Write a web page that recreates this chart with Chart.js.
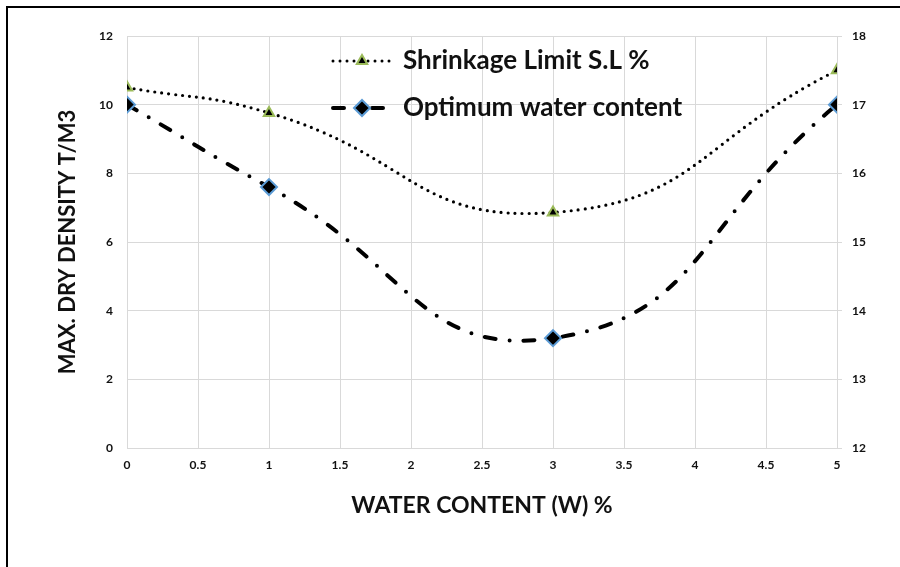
<!DOCTYPE html>
<html>
<head>
<meta charset="utf-8">
<script src="https://cdn.jsdelivr.net/npm/chart.js@4"></script>
<style>
    html, body { margin: 0; padding: 0; background: #fff; }
    #wrap { width: 900px; height: 567px; }
</style>
</head>
<body>
<div id="wrap"><canvas id="soilChart" width="900" height="567"></canvas></div>
<script>
// Values
const waterContent = [0, 1, 3, 5];
const optimumWater = [10, 7.6, 3.2, 10];          // left axis
const shrinkageLimit = [17.25, 16.88, 15.43, 17.5]; // right axis

const seriesNames = ['Shrinkage Limit S.L %', 'Optimum water content'];

const FONT = "Lato, 'Open Sans', sans-serif";
const GRID = '#d9d9d9';

const dottedDash = [0, 7];
const dashDot = [11, 14, 0, 14];

// White background plus the black frame on the top and left edges
const framePlugin = {
    id: 'frame',
    beforeDraw(chart) {
        const ctx = chart.ctx;
        ctx.save();
        ctx.fillStyle = '#fff';
        ctx.fillRect(0, 0, chart.width, chart.height);
        ctx.strokeStyle = '#000';
        ctx.lineWidth = 2;
        ctx.beginPath();
        ctx.moveTo(7, chart.height);
        ctx.lineTo(7, 7);
        ctx.lineTo(chart.width, 7);
        ctx.stroke();
        ctx.restore();
    }
};

// Legend sitting inside the plot, with line sample + marker like Excel
const legendPlugin = {
    id: 'sampleLegend',
    afterDraw(chart) {
        const ctx = chart.ctx;
        const rows = [
            { ds: chart.data.datasets[1], y: 61, dash: dottedDash, width: 3 },
            { ds: chart.data.datasets[0], y: 108, dash: dashDot, width: 4 }
        ];
        rows.forEach(row => {
            ctx.save();
            ctx.strokeStyle = '#000';
            ctx.lineWidth = row.width;
            ctx.lineCap = 'round';
            ctx.setLineDash(row.dash);
            ctx.beginPath();
            ctx.moveTo(333, row.y);
            ctx.lineTo(391, row.y);
            ctx.stroke();
            ctx.setLineDash([]);
            ctx.fillStyle = row.ds.pointBackgroundColor;
            ctx.strokeStyle = row.ds.pointBorderColor;
            ctx.lineWidth = row.ds.pointBorderWidth;
            Chart.helpers.drawPoint(ctx, {
                pointStyle: row.ds.pointStyle,
                radius: row.ds.pointRadius,
                rotation: 0,
                borderWidth: row.ds.pointBorderWidth
            }, 362, row.y);
            ctx.fillStyle = '#111';
            ctx.font = 'bold 26px ' + FONT;
            ctx.textBaseline = 'middle';
            ctx.fillText(row.ds.label, 403, row.y);
            ctx.restore();
        });
    }
};

const tickFont = { family: FONT, size: 12, weight: 'bold' };

const ctx = document.getElementById('soilChart').getContext('2d');

new Chart(ctx, {
    type: 'line',
    data: {
        datasets: [{
            label: seriesNames[1],
            data: waterContent.map((w, i) => ({ x: w, y: optimumWater[i] })),
            yAxisID: 'y',
            borderColor: '#000',
            borderWidth: 4,
            borderDash: dashDot,
            borderCapStyle: 'round',
            tension: 0.5,
            pointStyle: 'rectRot',
            pointRadius: 8,
            pointBackgroundColor: '#000',
            pointBorderColor: '#5b9bd5',
            pointBorderWidth: 2
        }, {
            label: seriesNames[0],
            data: waterContent.map((w, i) => ({ x: w, y: shrinkageLimit[i] })),
            yAxisID: 'y1',
            borderColor: '#000',
            borderWidth: 3.2,
            borderDash: dottedDash,
            borderCapStyle: 'round',
            tension: 0.5,
            pointStyle: 'triangle',
            pointRadius: 6,
            pointBackgroundColor: '#000',
            pointBorderColor: '#9bbb59',
            pointBorderWidth: 2
        }]
    },
    options: {
        responsive: false,
        animation: false,
        layout: { padding: { top: 36, left: 0, right: 0, bottom: 0 } },
        plugins: {
            legend: { display: false },
            tooltip: { enabled: false }
        },
        scales: {
            x: {
                type: 'linear',
                min: 0,
                max: 5,
                afterFit: s => { s.height = 119; },
                ticks: {
                    stepSize: 0.5,
                    color: '#111',
                    padding: 10,
                    maxRotation: 0,
                    font: tickFont,
                    callback: v => String(v)
                },
                grid: { color: GRID, drawTicks: false },
                border: { display: false },
                title: {
                    display: true,
                    text: 'WATER CONTENT (W) %',
                    color: '#111',
                    padding: { top: 0, bottom: 48 },
                    font: { family: FONT, size: 23, weight: 'bold' }
                }
            },
            y: {
                position: 'left',
                min: 0,
                max: 12,
                afterFit: s => { s.width = 127; },
                ticks: {
                    stepSize: 2,
                    color: '#111',
                    padding: 14,
                    font: tickFont
                },
                grid: { color: GRID, drawTicks: false },
                border: { display: false },
                title: {
                    display: true,
                    text: 'MAX. DRY DENSITY T/M3',
                    color: '#111',
                    padding: { top: 55, bottom: 0 },
                    font: { family: FONT, size: 22, weight: 'bold' }
                }
            },
            y1: {
                position: 'right',
                min: 12,
                max: 18,
                afterFit: s => { s.width = 63; },
                ticks: {
                    stepSize: 1,
                    color: '#111',
                    padding: 10,
                    font: tickFont
                },
                grid: { color: GRID, drawOnChartArea: false, tickLength: 5 },
                border: { display: false }
            }
        }
    },
    plugins: [framePlugin, legendPlugin]
});
</script>
</body>
</html>
